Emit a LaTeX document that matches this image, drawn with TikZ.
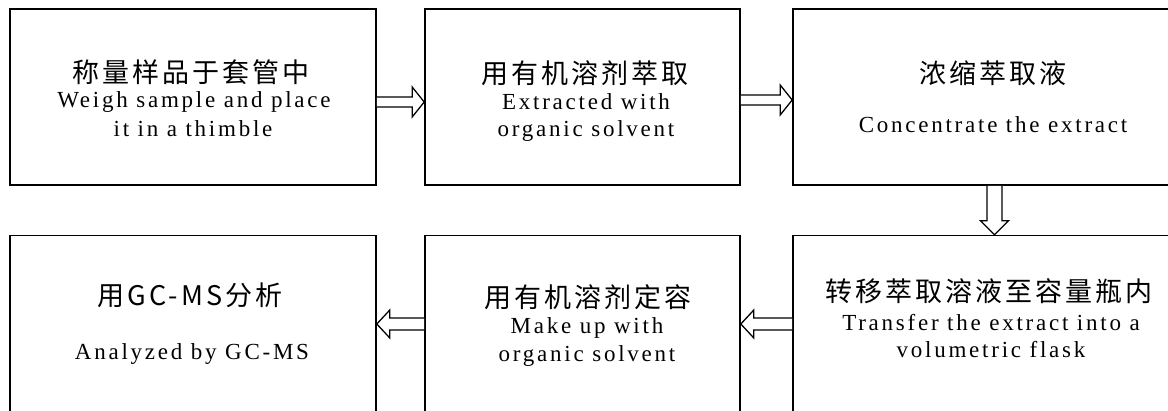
\documentclass[tikz,border=0pt]{standalone}
\usepackage{fontspec}
\setmainfont[LetterSpace=12]{Liberation Serif}
\newfontfamily\cjk[LetterSpace=11]{Noto Sans CJK SC}
\usetikzlibrary{calc}
\tikzset{
  box/.style={draw=black, line width=1.6pt, fill=white, rectangle, inner sep=0pt},
  blk/.style={draw=black, line width=1.3pt, fill=white, line join=miter},
  cn/.style={font=\cjk\fontsize{27}{27}\selectfont, anchor=base, inner sep=0pt},
  en/.style={font=\fontsize{23}{23}\selectfont, anchor=base, inner sep=0pt},
}
\begin{document}
\begin{tikzpicture}[x=1pt,y=-1pt]
\useasboundingbox[fill=white] (0,0) rectangle (1168,410);
\clip (0,0) rectangle (1168,410);
% boxes
\node[box, minimum width=366pt, minimum height=176pt] (b1) at (193,97) {};
\node[box, minimum width=315pt, minimum height=176pt] (b2) at (582.5,97) {};
\node[box, minimum width=397pt, minimum height=176pt] (b3) at (991.5,97) {};
\node[box, minimum width=366pt, minimum height=184pt] (b4) at (193,327.5) {};
\node[box, minimum width=315pt, minimum height=184pt] (b5) at (582.5,327.5) {};
\node[box, minimum width=397pt, minimum height=184pt] (b6) at (991.5,327.5) {};
% texts
\node[cn] (t1a) at (191,82) {称量样品于套管中};
\node[en] (t1b) at (194,107) {Weigh sample and place};
\node[en] (t1c) at (193,136) {it in a thimble};
\node[cn] (t2a) at (585,83) {用有机溶剂萃取};
\node[en] (t2b) at (586,109) {Extracted with};
\node[en] (t2c) at (586,136) {organic solvent};
\node[cn] (t3a) at (993,83) {浓缩萃取液};
\node[en] (t3b) at (993,132) {Concentrate the extract};
\node[cn] (t4a) at (190,305) {用GC-MS分析};
\node[en] (t4b) at (192,359) {Analyzed by GC-MS};
\node[cn] (t5a) at (588,307) {用有机溶剂定容};
\node[en] (t5b) at (587,333) {Make up with};
\node[en] (t5c) at (587,361) {organic solvent};
\node[cn] (t6a) at (989,301) {转移萃取溶液至容量瓶内};
\node[en] (t6b) at (991,330) {Transfer the extract into a};
\node[en] (t6c) at (991,357) {volumetric flask};
% block arrows (right)
\draw[blk] ($(b1.east)+(0,0)$) -- ($(b2.west)+(-12,0)$) -- ($(b2.west)+(-12,-10)$) -- ($(b2.west)+(0,5)$) -- ($(b2.west)+(-12,20)$) -- ($(b2.west)+(-12,10)$) -- ($(b1.east)+(0,10)$);
\draw[blk] ($(b2.east)+(0,-2)$) -- ($(b3.west)+(-12,-2)$) -- ($(b3.west)+(-12,-12)$) -- ($(b3.west)+(0,3)$) -- ($(b3.west)+(-12,18)$) -- ($(b3.west)+(-12,8)$) -- ($(b2.east)+(0,8)$);
% down arrow
\draw[blk] ($(b3.south)+(-4.5,0)$) -- ($(b6.north)+(-4.5,-14)$) -- ($(b6.north)+(-11,-14)$) -- ($(b6.north)+(3,0)$) -- ($(b6.north)+(17,-14)$) -- ($(b6.north)+(10.5,-14)$) -- ($(b3.south)+(10.5,0)$);
% left arrows
\draw[blk] ($(b6.west)+(0,-9.5)$) -- ($(b5.east)+(13,-9.5)$) -- ($(b5.east)+(13,-17.5)$) -- ($(b5.east)+(0,-3.5)$) -- ($(b5.east)+(13,10.5)$) -- ($(b5.east)+(13,2.5)$) -- ($(b6.west)+(0,2.5)$);
\draw[blk] ($(b5.west)+(0,-9.5)$) -- ($(b4.east)+(13,-9.5)$) -- ($(b4.east)+(13,-17.5)$) -- ($(b4.east)+(0,-3.5)$) -- ($(b4.east)+(13,10.5)$) -- ($(b4.east)+(13,2.5)$) -- ($(b5.west)+(0,2.5)$);
\end{tikzpicture}
\end{document}
